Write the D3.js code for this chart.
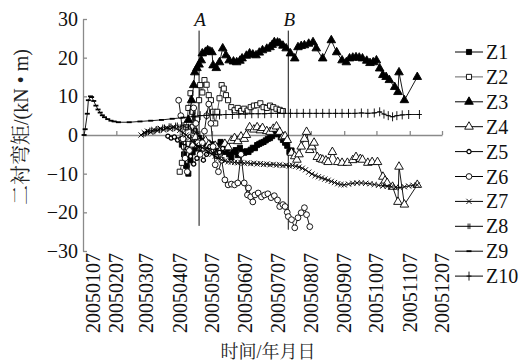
<!DOCTYPE html>
<html>
<head>
<meta charset="utf-8">
<script src="https://cdn.jsdelivr.net/npm/d3@7"></script>
<style>
  body { margin: 0; background: #fff; }
  svg { display: block; }
</style>
</head>
<body>
<div id="chart"></div>
<script>
// x tick labels (yyyymmdd) and y ticks
const tickDates = ["20050107", "20050207", "20050307", "20050407", "20050507", "20050607",
  "20050707", "20050807", "20050907", "20051007", "20051107", "20051207"];
const yTicks = [-30, -20, -10, 0, 10, 20, 30];
const seriesNames = ["Z1", "Z2", "Z3", "Z4", "Z5", "Z6", "Z7", "Z8", "Z9", "Z10"];
// construction stages A, B  (value range of the marker line)
const stageLabels = ["A", "B"];
const stageDates = ["20050425", "20050717"];
const stageTop = [27, 27];
const stageBottom = [-23.5, -24.5];

// series: [day of year 2005, moment kN·m]
const z1 = [[99,-2.5],[101,-5],[103,-8],[105,-10],[107,-6.5],[109,-4.5],[111,-3.5],[113,-2.2],[115,-0.8],
  [117,-2.5],[119,-1.5],[121,-2.8],[123,-2],[125,-3],[127,-2.4],[129,-3.4],[131,-2.8],[133,-3.8],[135,-1.8],
  [137,-3.3],[139,-4.4],[141,-3.5],[143,-5],[145,-5.8],[147,-4.4],[149,-3.9],[151,-5.2],[153,-3.3],[155,-4.4],
  [157,-4.6],[159,-4.2],[161,-4.4],[163,-3.8],[165,-3.3],[167,-3.4],[169,-2.6],[171,-2.3],[173,-2.0],[175,-1.8],
  [177,-1.4],[179,-1.0],[181,-0.8],[183,-0.3],[185,0.2],[187,0.6],[189,0.2],[191,-0.6],[193,-1.3],[195,-2.0],
  [197,-2.8],[199,-4.4],[201,-4.0]];
const z2 = [[97,-9.5],[99,-7.2],[101,-3],[103,2],[105,7],[107,10.8],[109,6],[111,1],[113,4],[115,9],[116.5,12.9],
  [118,11],[120,14.2],[122,13],[124,10.3],[126,9],[128,6],[130,3],[132,6],[134,9.5],[136,12.9],[138,12],[140,10.3],
  [142,9],[145,7.2],[148,6.4],[151,7],[154,6.2],[157,6.8],[160,6.3],[163,7.2],[166,7.6],[169,7.7],[172,8.2],
  [175,7.2],[178,7.0],[181,7.6],[184,7.2],[187,6.8],[190,6.5],[193,6.2]];
const z3 = [[105.6,3.9],[108.4,9],[110.3,12.9],[111.2,16.2],[113,17.3],[115.5,18.2],[117.7,19.3],[118.7,21.1],
  [121,21.5],[123.3,21.9],[125,21.6],[127,21.4],[128,18],[131.7,17.3],[134.5,18.8],[137.3,22.4],[140,20.6],
  [143.8,19.3],[147,19.0],[150.3,18.8],[153,19.2],[155.9,19.8],[159,20.5],[162.4,21.1],[165,20.8],[168.9,20.6],
  [171.5,21.3],[174.5,21.9],[178,22.3],[181,22.7],[183,23.3],[185.6,24],[188,23.9],[190.3,23.7],[193,23.1],
  [196.8,22.4],[200.5,21.1],[204.2,19.8],[207,22.7],[210,23],[213.5,23.2],[217,23.6],[221,24],[224.7,22.4],
  [230.3,19.8],[238.7,24.5],[243.3,21.4],[248,19.3],[252.6,18.8],[255.4,19.8],[258,20],[261.9,20.1],[264.5,20],
  [267.5,19.8],[271,19.2],[274,18.6],[277,18.8],[280.5,19.3],[283,17.2],[286.1,15.5],[289,15],[292.6,14.2],
  [297.3,12.4],[300,11.1],[301.9,16.2],[306.6,9],[318.7,15]];
const z4 = [[106,-1],[109,-2.5],[112,-0.5],[115,-2],[118,-3.5],[121,-1.5],[124,-2.5],[127,-4.2],[130,-2.8],
  [133,-4.8],[136,-3.5],[139,-2.3],[142,-3.2],[145,-1.5],[148,-0.8],[151,-1.6],[154,-0.4],[157,-1],[159.6,0],
  [162.4,2],[166,1.4],[169.8,2],[172,1.2],[174.5,1.8],[178,1.0],[181,0.8],[184,1.6],[187.5,2.2],[190,0.8],
  [193,-0.5],[195.5,-0.3],[197.7,-1.3],[201.4,-4.6],[204,-5.5],[206,-6.4],[208,-5],[210.7,-3],[213,-1],
  [215.4,0.8],[218.2,-3.9],[220,-3],[222.8,-2],[225.6,-5.7],[228,-6.2],[230.3,-6.4],[233,-6.6],[235.9,-7],
  [239.6,-4.4],[244.2,-7],[248.9,-7.2],[253.5,-7.2],[258,-6.5],[261.9,-5.7],[265,-6.2],[267.5,-6.4],[272.2,-7.2],
  [276.8,-7],[281.5,-7],[286.1,-10.8],[288.5,-11.8],[290.8,-12.4],[295.4,-13.4],[300,-17.3],[301.9,-8.2],
  [306.6,-18],[318.7,-12.9]];
const z5 = [[86,-0.3],[89,-0.8],[92,-0.5],[95,-1.3],[98,-1],[101,-2],[104,-3.5],[107,-5.5],[110,-7.5],
  [113,-6],[116,-4.5],[119,-6.5],[122,-5],[125,-3],[128,-4],[131,-5.5],[134,-4.5],[137,-3.5]];
const z6 = [[96,9],[98,5],[100,-1],[102,-6],[104,-9.5],[106,-4],[108,2],[110,7],[112,3],[114,-2],[116,-5],
  [118,-2],[120,1],[122,5],[124,8],[126,3],[128,-3],[130,-7.7],[133,-9.5],[136,-6.5],[139,-11.6],[142,-12.9],
  [145,-12.7],[148,-12.9],[151,-12.4],[154,-5],[157,-12.4],[160,-15.5],[161.5,-13.7],[163,-16],[165,-17.3],
  [167,-15.5],[170,-15],[173,-16],[176,-15.5],[179,-15.2],[182,-16.2],[185,-15.7],[188,-16.8],[190,-18.5],
  [193,-18],[195,-18.5],[197,-20],[198,-21.1],[201,-21.9],[204,-24],[207,-21.4],[210,-20.1],[213,-18.8],
  [215,-20.6],[218,-23.7]];
const z7 = [[61,0],[64,0.6],[67,1.0],[70,0.7],[73,1.4],[76,1.1],[79,1.7],[82,1.3],[85,1.9],[88,1.5],[91,2.1],
  [94,1.6],[97,1.2],[100,0.6],[103,0],[106,-0.8],[109,-1.8],[112,-2.6],[115,-3],[118,-3.3],[121,-3.8],[124,-4.4],
  [127,-5],[130,-5.5],[133,-6],[136,-6.4],[139,-6.7],[142,-6.9],[145,-7],[148,-7.1],[151,-7.2],[154,-7.1],
  [157,-7.3],[160,-7.2],[163,-7.4],[166,-7.3],[169,-7.5],[172,-7.4],[175,-7.6],[178,-7.5],[181,-7.7],[184,-7.6],
  [187,-7.8],[190,-7.7],[193,-7.9],[196,-7.8],[199,-8],[202,-7.9],[205,-8.1],[208,-8.3],[211,-8.6],[214,-9],
  [217,-9.6],[220,-10.1],[223,-10.5],[226,-10.8],[229,-11.1],[232,-11.4],[235,-11.7],[238,-12],[241,-12.3],
  [244,-12.6],[247,-12.8],[250,-12.9],[254,-12.7],[258,-12.5],[262,-12.4],[266,-12.4],[270,-12.5],[274,-12.6],
  [278,-12.8],[282,-13],[286,-13.2],[290,-13.3],[294,-13.4],[298,-13.5],[302,-13.6],[306,-13.4],[310,-13.2],
  [314,-13],[318,-12.9]];
const z8 = [[64,0.3],[67,0.8],[70,1.2],[73,0.9],[76,1.6],[79,1.3],[82,2.0],[85,1.6],[88,2.3],[91,1.8],[94,2.5],
  [97,2.0],[100,2.6],[103,1.9],[106,2.2],[109,1.2],[112,0.8],[115,0.3]];
const z9 = [[8,0],[9.5,1.5],[11,5.5],[12.5,9],[14,10],[15.5,9.8],[17,8.8],[19,7.6],[21,6.6],[23,5.8],[25,5.1],
  [27,4.6],[30,4.1],[33,3.7],[36,3.5],[40,3.3],[50,3.3],[60,3.5],[70,3.7],[80,3.9],[90,4.2],[100,4.5],[110,4.8]];
const z10 = [[110,4.8],[116,5.0],[122,5.1],[128,5.2],[134,5.2],[140,5.3],[146,5.3],[152,5.4],[158,5.4],
  [164,5.5],[170,5.5],[176,5.5],[182,5.6],[188,5.6],[194,5.6],[200,5.6],[206,5.6],[212,5.6],[218,5.6],
  [224,5.6],[230,5.6],[236,5.6],[242,5.6],[248,5.6],[254,5.6],[260,5.6],[266,5.7],[272,5.6],[278,5.7],
  [283,6.0],[287,5.4],[291,5.0],[295,4.7],[299,5.0],[304,5.2],[310,5.3],[320,5.3]];

const seriesData = [z1, z2, z3, z4, z5, z6, z7, z8, z9, z10];
const seriesMarks = ["square", "square", "triangle", "triangle", "smallcircle", "circle", "times", "bar", "dash", "plus"];
const seriesFilled = [true, false, true, false, false, false, false, false, false, false];

const parseDay = d3.timeParse("%Y%m%d");
const dayOfYear = (n) => d3.timeDay.offset(new Date(2005, 0, 0), n);

const SERIF = '"Liberation Serif", "Times New Roman"';
const CJK = '"Liberation Serif", "Noto Serif CJK SC", "Noto Sans CJK SC"';

class Moment_Chart {
  constructor(element, width, height, margin) {
    this.element = element;
    this.width = width;
    this.height = height;
    this.margin = margin;
    this.draw();
  }

  draw() {
    this.svg = d3.select(this.element).append("svg")
      .attr("width", this.width)
      .attr("height", this.height);

    this.createScales();
    this.drawAxis();
    this.drawStages();
    this.drawSeries();
    this.drawLegend();
  }

  createScales() {
    const m = this.margin;
    this.x = d3.scaleTime()
      .domain([parseDay(tickDates[0]), parseDay(tickDates[tickDates.length - 1])])
      .range([m.left, this.width - m.right]);
    this.y = d3.scaleLinear()
      .domain([-30, 30])
      .range([this.height - m.bottom, m.top]);
  }

  marker(sel, type, filled) {
    const stroke = "#000";
    if (type === "square") {
      sel.append("path").attr("d", d3.symbol(d3.symbolSquare, 26)())
        .attr("fill", filled ? "#000" : "#fff").attr("stroke", stroke).attr("stroke-width", 0.9);
    } else if (type === "triangle") {
      sel.append("path").attr("d", d3.symbol(d3.symbolTriangle, 32)())
        .attr("fill", filled ? "#000" : "#fff").attr("stroke", stroke).attr("stroke-width", 0.9);
    } else if (type === "circle") {
      sel.append("circle").attr("r", 2.9)
        .attr("fill", "#fff").attr("stroke", stroke).attr("stroke-width", 0.9);
    } else if (type === "smallcircle") {
      sel.append("circle").attr("r", 2.1)
        .attr("fill", "#fff").attr("stroke", stroke).attr("stroke-width", 1.3);
    } else if (type === "times") {
      sel.append("path").attr("d", "M-2.6,-2.6L2.6,2.6M-2.6,2.6L2.6,-2.6")
        .attr("stroke", stroke).attr("stroke-width", 0.9);
    } else if (type === "bar") {
      sel.append("path").attr("d", "M-0.9,-2.8V2.8M0.9,-2.8V2.8")
        .attr("stroke", stroke).attr("stroke-width", 0.9);
    } else if (type === "dash") {
      sel.append("path").attr("d", "M-2.5,0H2.5")
        .attr("stroke", stroke).attr("stroke-width", 1.8);
    } else if (type === "plus") {
      sel.append("path").attr("d", "M0,-4.5V4.5M-2.5,0H2.5")
        .attr("stroke", stroke).attr("stroke-width", 0.9);
    }
  }

  drawAxis() {
    const axisColor = "#8a8a8a";
    const m = this.margin;

    // y axis, ticks pointing inward
    const yAxis = d3.axisRight(this.y).tickValues(yTicks).tickSize(4).tickSizeOuter(0).tickFormat("");
    const gy = this.svg.append("g").attr("transform", `translate(${m.left},0)`).call(yAxis);
    gy.selectAll("path, line").attr("stroke", axisColor).attr("stroke-width", 1.3);

    this.svg.append("g").selectAll("text")
      .data(yTicks)
      .join("text")
      .attr("x", m.left - 5)
      .attr("y", (d) => this.y(d))
      .attr("dy", "0.35em")
      .attr("text-anchor", "end")
      .style("font-family", SERIF)
      .style("font-size", "20px")
      .attr("fill", "#111")
      .text((d) => (d < 0 ? "\u2212" + Math.abs(d) : d));

    // zero line with month ticks pointing up
    const xAxis = d3.axisTop(this.x)
      .tickValues(tickDates.slice(1).map(parseDay))
      .tickSize(4).tickSizeOuter(0).tickFormat("");
    const gx = this.svg.append("g").attr("transform", `translate(0,${this.y(0)})`).call(xAxis);
    gx.selectAll("path, line").attr("stroke", axisColor).attr("stroke-width", 1.3);

    // rotated date labels under the plot
    this.svg.append("g").selectAll("text")
      .data(tickDates)
      .join("text")
      .attr("transform", (d, i) => `translate(${this.x(parseDay(d)) + (i === 0 ? 10 : 0)},${this.y(-30) + 2}) rotate(-90)`)
      .attr("dy", "0.35em")
      .attr("text-anchor", "end")
      .style("font-family", SERIF)
      .style("font-size", "20px")
      .attr("fill", "#111")
      .text((d) => d);

    // axis titles
    this.svg.append("text")
      .attr("transform", `translate(21,${(this.y(30) + this.y(-30)) / 2 - 8}) rotate(-90)`)
      .attr("dy", "0.35em")
      .attr("text-anchor", "middle")
      .style("font-family", CJK)
      .style("font-size", "20px")
      .attr("fill", "#222")
      .text("二衬弯矩/(kN \u2022 m)");

    this.svg.append("text")
      .attr("x", 268)
      .attr("y", this.height - 10)
      .attr("dy", "0.35em")
      .attr("text-anchor", "middle")
      .style("font-family", CJK)
      .style("font-size", "18px")
      .attr("fill", "#222")
      .text("时间/年月日");
  }

  drawStages() {
    const g = this.svg.append("g");
    stageLabels.forEach((label, i) => {
      const sx = this.x(parseDay(stageDates[i]));
      g.append("line")
        .attr("x1", sx).attr("x2", sx)
        .attr("y1", this.y(stageTop[i])).attr("y2", this.y(stageBottom[i]))
        .attr("stroke", "#111").attr("stroke-width", 1);
      g.append("text")
        .attr("x", sx + 1)
        .attr("y", this.y(stageTop[i]) - 5)
        .attr("text-anchor", "middle")
        .style("font-family", SERIF)
        .style("font-style", "italic")
        .style("font-size", "19px")
        .attr("fill", "#111")
        .text(label);
    });
  }

  drawSeries() {
    const line = d3.line()
      .x((d) => this.x(dayOfYear(d[0])))
      .y((d) => this.y(d[1]));

    seriesData.forEach((data, i) => {
      const g = this.svg.append("g");
      g.append("path")
        .datum(data)
        .attr("d", line)
        .attr("fill", "none")
        .attr("stroke", i === 1 ? "#444" : "#000")
        .attr("stroke-width", 0.9);

      const marks = g.selectAll("g")
        .data(data)
        .join("g")
        .attr("transform", (d) => `translate(${this.x(dayOfYear(d[0]))},${this.y(d[1])})`);
      marks.each((d, j, nodes) => this.marker(d3.select(nodes[j]), seriesMarks[i], seriesFilled[i]));
    });
  }

  drawLegend() {
    const g = this.svg.append("g");
    seriesNames.forEach((name, i) => {
      const ly = 52 + i * 24.9;
      g.append("line")
        .attr("x1", 455).attr("x2", 483)
        .attr("y1", ly).attr("y2", ly)
        .attr("stroke", i === 1 ? "#666" : "#000").attr("stroke-width", 1);
      this.marker(g.append("g").attr("transform", `translate(469,${ly})`), seriesMarks[i], seriesFilled[i]);
      g.append("text")
        .attr("x", 486)
        .attr("y", ly)
        .attr("dy", "0.35em")
        .style("font-family", SERIF)
        .style("font-size", "20px")
        .attr("fill", "#111")
        .text(name);
    });
  }
}

new Moment_Chart(document.getElementById("chart"), 519, 362, { top: 19, right: 77, bottom: 111, left: 83 });
</script>
</body>
</html>
